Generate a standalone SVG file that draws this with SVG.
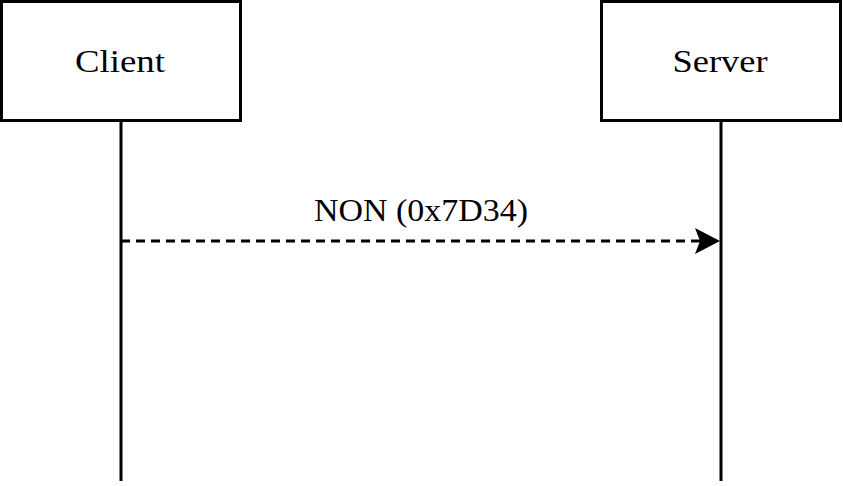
<svg xmlns="http://www.w3.org/2000/svg" width="843" height="486" viewBox="0 0 843 486">
<style>
.box{fill:#fff;stroke:#000;stroke-width:3}
.life{stroke:#000;stroke-width:3;fill:none}
.lbl{font-family:"Liberation Serif","DejaVu Serif",serif;font-size:32px;fill:#000;text-anchor:middle}
.msg{stroke:#000;stroke-width:3;fill:none;stroke-dasharray:9 6}
</style>
<defs>
<marker id="arr" markerUnits="userSpaceOnUse" markerWidth="28" markerHeight="30" refX="25" refY="15" orient="auto">
<path d="M0,2 L25,15 L0,28 L5,15 Z" fill="#000"/>
</marker>
</defs>
<g id="client">
<line class="life" x1="121" y1="121" x2="121" y2="481"/>
<rect class="box" x="1.5" y="1.5" width="239" height="119"/>
<text class="lbl" x="120" y="72" textLength="90" lengthAdjust="spacingAndGlyphs">Client</text>
</g>
<g id="server">
<line class="life" x1="721" y1="121" x2="721" y2="481"/>
<rect class="box" x="601.5" y="1.5" width="239" height="119"/>
<text class="lbl" x="720" y="72" textLength="95" lengthAdjust="spacingAndGlyphs">Server</text>
</g>
<g id="connectors">
<line class="msg" x1="121" y1="241" x2="720" y2="241" marker-end="url(#arr)"/>
<text class="lbl" x="421" y="221" textLength="214" lengthAdjust="spacingAndGlyphs">NON (0x7D34)</text>
</g>
</svg>
